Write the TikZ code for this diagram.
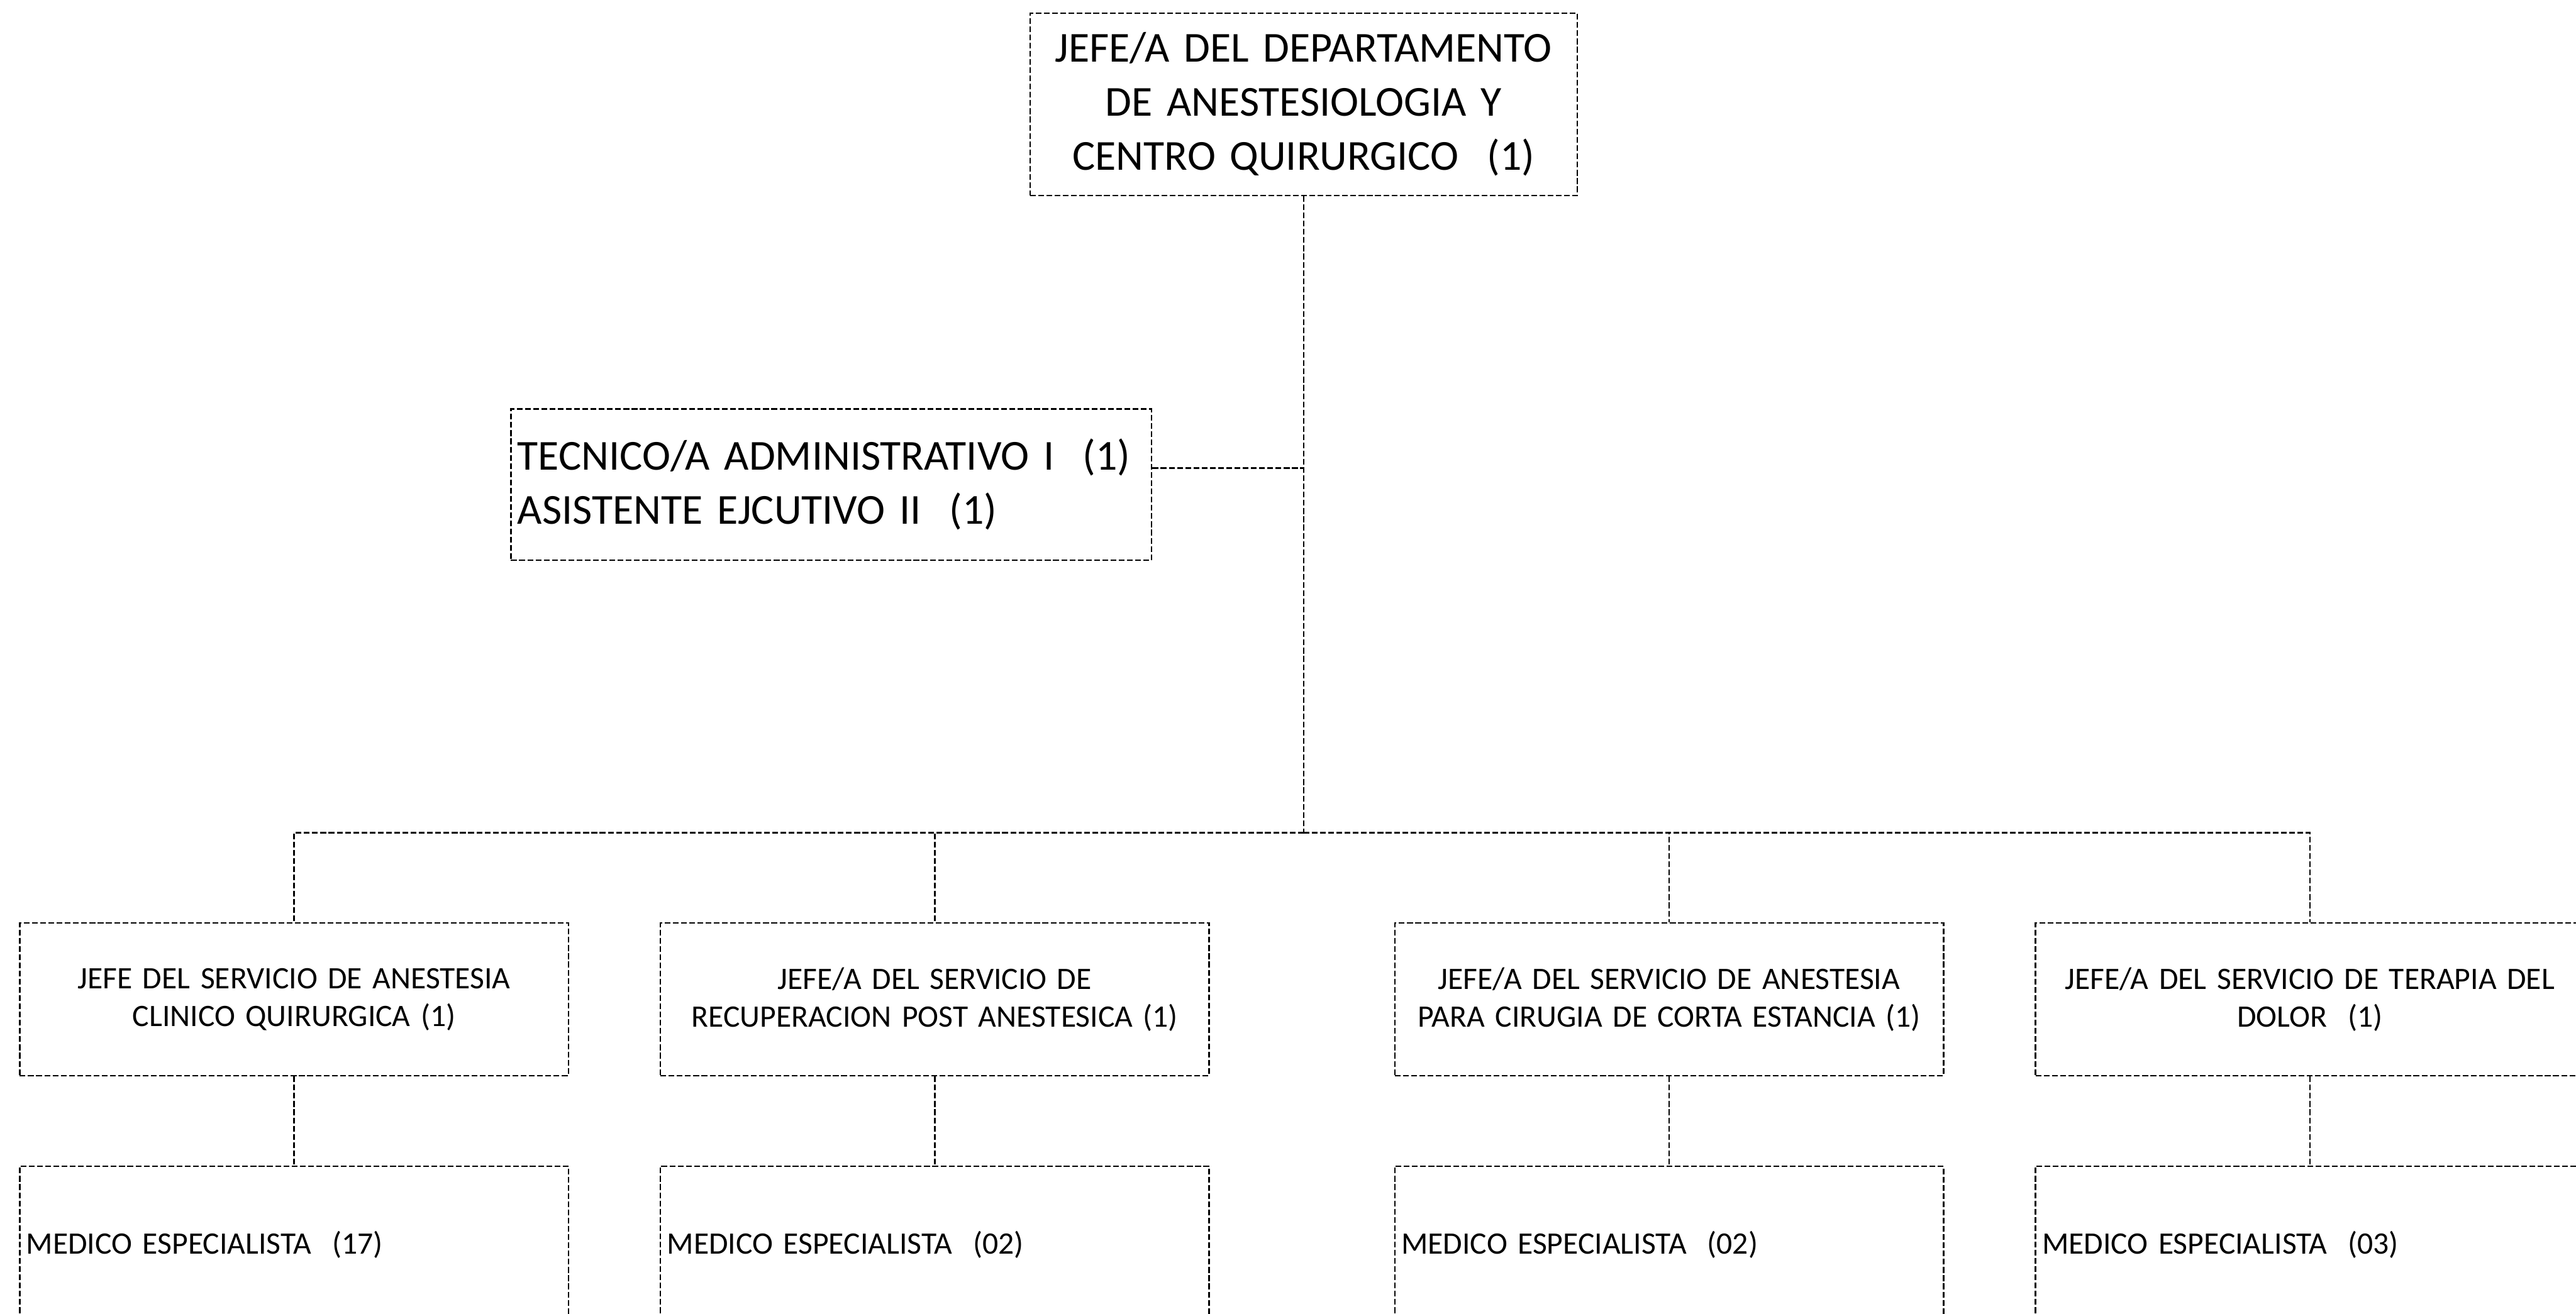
\documentclass[tikz,border=0pt]{standalone}
\usepackage{fontspec}
\setmainfont{Carlito}
\begin{document}
\begin{tikzpicture}[x=1pt,y=-1pt,
  box/.style={draw, line width=0.9pt, dash pattern=on 3.5pt off 1.5pt, inner sep=4pt, anchor=center},
  link/.style={line width=0.9pt, dash pattern=on 3.5pt off 1.5pt},
  big/.style={font=\fontsize{26}{33}\selectfont},
  small/.style={font=\fontsize{19}{23}\selectfont},
  lvtwo/.style={box, small, align=center, text width=326, minimum height=93},
  lvthree/.style={box, small, align=left, text width=326, minimum height=96}]
\useasboundingbox (0,0) rectangle (1568,800);
\clip (0,0) rectangle (1568,800);

\node[box, big, align=center, text width=325, minimum height=111] (top) at (793.5,63.5)
  {JEFE/A DEL DEPARTAMENTO\\DE ANESTESIOLOGIA Y\\CENTRO QUIRURGICO~ (1)};
\node[box, big, align=left, text width=382, minimum height=92] (admin) at (506,295)
  {TECNICO/A ADMINISTRATIVO I~ (1)\\ASISTENTE EJCUTIVO II~ (1)};

\node[lvtwo] (s1) at (179,608.5) {JEFE DEL SERVICIO DE ANESTESIA\\CLINICO QUIRURGICA (1)};
\node[lvtwo] (s2) at (569,608.5) {JEFE/A DEL SERVICIO DE\\RECUPERACION POST ANESTESICA (1)};
\node[lvtwo] (s3) at (1016,608.5) {JEFE/A DEL SERVICIO DE ANESTESIA\\PARA CIRUGIA DE CORTA ESTANCIA (1)};
\node[lvtwo] (s4) at (1406,608.5) {JEFE/A DEL SERVICIO DE TERAPIA DEL\\DOLOR~ (1)};

\node[lvthree] (m1) at (179,758) {MEDICO ESPECIALISTA~ (17)};
\node[lvthree] (m2) at (569,758) {MEDICO ESPECIALISTA~ (02)};
\node[lvthree] (m3) at (1016,758) {MEDICO ESPECIALISTA~ (02)};
\node[lvthree] (m4) at (1406,758) {MEDICO ESPECIALISTA~ (03)};

\coordinate (bus) at (793.5,507);
\draw[link] (top.south) -- (bus);
\draw[link] ([yshift=10pt]admin.east) -- ([yshift=10pt]admin.east -| top.south);
\foreach \n in {s1,s2,s3,s4}{
  \draw[link] (bus) -| (\n.north);
}
\draw[link] (s1.south) -- (m1.north);
\draw[link] (s2.south) -- (m2.north);
\draw[link] (s3.south) -- (m3.north);
\draw[link] (s4.south) -- (m4.north);
\end{tikzpicture}
\end{document}
